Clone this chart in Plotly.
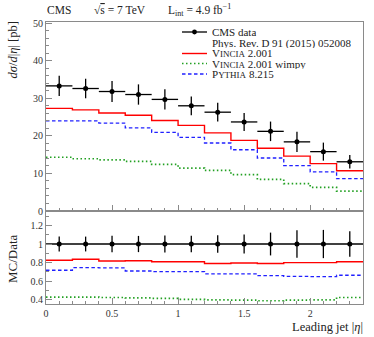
import plotly.graph_objects as go

# ---------------- data ----------------
bin_edges = [0.0, 0.2, 0.4, 0.6, 0.8, 1.0, 1.2, 1.4, 1.6, 1.8, 2.0, 2.2, 2.4]
bin_centers = [0.1, 0.3, 0.5, 0.7, 0.9, 1.1, 1.3, 1.5, 1.7, 1.9, 2.1, 2.3]
bin_halfwidth = [0.1] * 12

cms_data = [33.3, 32.6, 31.8, 31.0, 29.7, 28.0, 26.3, 23.7, 21.2, 18.4, 15.8, 13.1]
cms_err = [2.7, 2.6, 2.8, 2.7, 2.7, 2.5, 2.5, 2.4, 2.6, 2.7, 2.4, 1.8]

vincia = [27.3, 26.9, 26.1, 25.5, 24.1, 22.8, 20.8, 18.8, 16.7, 14.6, 12.6, 10.7]
vincia_wimpy = [14.3, 13.9, 13.6, 13.2, 12.4, 11.4, 10.8, 9.7, 8.4, 7.3, 6.3, 5.3]
pythia = [24.0, 24.0, 23.4, 22.1, 20.9, 19.6, 18.1, 16.3, 14.1, 12.1, 10.4, 8.6]

ratio_vincia = [0.825, 0.836, 0.818, 0.82, 0.81, 0.81, 0.79, 0.796, 0.79, 0.80, 0.80, 0.81]
ratio_wimpy = [0.43, 0.43, 0.425, 0.42, 0.415, 0.405, 0.40, 0.397, 0.39, 0.397, 0.40, 0.425]
ratio_pythia = [0.718, 0.746, 0.743, 0.71, 0.703, 0.703, 0.68, 0.68, 0.66, 0.653, 0.65, 0.664]

main_yticks = [0, 10, 20, 30, 40, 50]
ratio_yticks = [0.4, 0.6, 0.8, 1.0, 1.2]
ratio_yticklabels = ["0.4", "0.6", "0.8", "1", "1.2"]
x_ticks = [0, 0.5, 1, 1.5, 2]
x_ticklabels = ["0", "0.5", "1", "1.5", "2"]

# ---------------- style ----------------
FONT = "Liberation Serif"
RED = "#ff0000"
GREEN = "#22a022"
BLUE = "#2020ff"
FRAME = "#8a8a8a"
TXT = "#222222"

STY_VINCIA = dict(color=RED, dash="solid", width=1.4)
STY_WIMPY = dict(color=GREEN, dash="1.5px,2.5px", width=1.7)
STY_PYTHIA = dict(color=BLUE, dash="3.5px,2.5px", width=1.3)


def step(vals):
    return list(vals) + [vals[-1]]


fig = go.Figure()

for main_vals, rat_vals, sty in [(vincia, ratio_vincia, STY_VINCIA),
                                 (vincia_wimpy, ratio_wimpy, STY_WIMPY),
                                 (pythia, ratio_pythia, STY_PYTHIA)]:
    fig.add_trace(go.Scatter(x=bin_edges, y=step(main_vals), mode="lines",
                             line=dict(sty, shape="hv"),
                             xaxis="x", yaxis="y", showlegend=False, hoverinfo="skip"))
    fig.add_trace(go.Scatter(x=bin_edges, y=step(rat_vals), mode="lines",
                             line=dict(sty, shape="hv"),
                             xaxis="x2", yaxis="y2", showlegend=False, hoverinfo="skip"))

# data in main panel
fig.add_trace(go.Scatter(
    x=bin_centers, y=cms_data, mode="markers",
    marker=dict(color="black", size=5),
    error_x=dict(type="data", array=bin_halfwidth, color="black", thickness=1.3, width=0),
    error_y=dict(type="data", array=cms_err, color="black", thickness=1.3, width=0),
    xaxis="x", yaxis="y", showlegend=False))

# data ratio = 1 with relative errors
data_ratio = [d / d for d in cms_data]
data_ratio_err = [e / d for e, d in zip(cms_err, cms_data)]
fig.add_trace(go.Scatter(x=bin_edges, y=step(data_ratio), mode="lines",
                         line=dict(color="black", width=1.3, shape="hv"),
                         xaxis="x2", yaxis="y2", showlegend=False, hoverinfo="skip"))
fig.add_trace(go.Scatter(
    x=bin_centers, y=data_ratio, mode="markers",
    marker=dict(color="black", size=5),
    error_y=dict(type="data", array=data_ratio_err, color="black", thickness=1.3, width=0),
    xaxis="x2", yaxis="y2", showlegend=False))

# ---------------- layout ----------------
W, H = 374, 337
ML, MR, MT, MB = 46, 11, 22, 33
split = (304 - 211) / (H - MT - MB)

axis_common = dict(showline=True, linecolor=FRAME, linewidth=1, mirror=True,
                   ticks="inside", tickcolor=FRAME, showgrid=False, zeroline=False,
                   tickfont=dict(family=FONT, size=10, color="#333333"))

fig.update_layout(
    width=W, height=H,
    margin=dict(l=ML, r=MR, t=MT, b=MB),
    paper_bgcolor="white", plot_bgcolor="white",
    font=dict(family=FONT, size=11, color=TXT),
    showlegend=False,
    xaxis=dict(axis_common, domain=[0, 1], range=[0, 2.4], anchor="y",
               tickvals=x_ticks, showticklabels=False, ticklen=6,
               minor=dict(dtick=0.1, tick0=0, ticks="inside", ticklen=3, tickcolor=FRAME)),
    yaxis=dict(axis_common, domain=[split, 1], range=[0, 50.3], anchor="x",
               tickvals=main_yticks, ticklen=6,
               minor=dict(dtick=2, tick0=0, ticks="inside", ticklen=3, tickcolor=FRAME)),
    xaxis2=dict(axis_common, domain=[0, 1], range=[0, 2.4], anchor="y2",
                tickvals=x_ticks, ticktext=x_ticklabels, ticklen=6,
                minor=dict(dtick=0.1, tick0=0, ticks="inside", ticklen=3, tickcolor=FRAME)),
    yaxis2=dict(axis_common, domain=[0, split], range=[0.355, 1.355], anchor="x2",
                tickvals=ratio_yticks, ticktext=ratio_yticklabels, ticklen=6,
                minor=dict(dtick=0.1, tick0=0, ticks="inside", ticklen=3, tickcolor=FRAME)),
)

PW = W - ML - MR
PH = H - MT - MB


def px(xp):
    return (xp - ML) / PW


def py(yp):
    return (H - MB - yp) / PH


def f(size):
    return dict(family=FONT, size=size, color=TXT)


annotations = [
    dict(text="CMS", x=px(45), y=py(10), xanchor="left", yanchor="middle", font=f(11.5)),
    dict(text="√<span style='text-decoration:overline'>s</span> = 7 TeV", x=px(92), y=py(10),
         xanchor="left", yanchor="middle", font=f(11.5)),
    dict(text="L<sub>int</sub> = 4.9 fb<sup>−1</sup>", x=px(166), y=py(10),
         xanchor="left", yanchor="middle", font=f(11.5)),
    dict(text="<i>dσ</i>/<i>d</i>|<i>η</i>| [pb]", x=px(12), y=py(20), textangle=-90,
         xanchor="center", yanchor="top", font=f(12.5)),
    dict(text="MC/Data", x=px(12), y=py(259), textangle=-90,
         xanchor="center", yanchor="middle", font=f(13)),
    dict(text="Leading jet |<i>η</i>|", x=px(365), y=py(327), xanchor="right",
         yanchor="middle", font=f(12.5)),
]

# legend (drawn manually to match the compact row spacing of the reference)
leg_x0, leg_x1, leg_tx = px(182), px(207), px(210)
SC = "<span style='font-size:9px'>"
legend_rows = [
    ("CMS data", "data", 32),
    ("Phys. Rev. D 91 (2015) 052008", None, 43),
    ("V" + SC + "INCIA</span> 2.001", STY_VINCIA, 53.5),
    ("V" + SC + "INCIA</span> 2.001 wimpy", STY_WIMPY, 63.5),
    ("P" + SC + "YTHIA</span> 8.215", STY_PYTHIA, 74),
]
shapes = []
for label, sty, ypix in legend_rows:
    annotations.append(dict(text=label, x=leg_tx, y=py(ypix), xanchor="left",
                            yanchor="middle", height=10, font=f(11)))
    if sty == "data":
        shapes.append(dict(type="line", xref="paper", yref="paper", x0=leg_x0, x1=leg_x1,
                           y0=py(ypix), y1=py(ypix), line=dict(color="black", width=1.3)))
        cx = (leg_x0 + leg_x1) / 2
        shapes.append(dict(type="circle", xref="paper", yref="paper",
                           x0=cx - 2.4 / PW, x1=cx + 2.4 / PW,
                           y0=py(ypix) - 2.4 / PH, y1=py(ypix) + 2.4 / PH,
                           fillcolor="black", line=dict(color="black", width=0)))
    elif sty is not None:
        shapes.append(dict(type="line", xref="paper", yref="paper", x0=leg_x0, x1=leg_x1,
                           y0=py(ypix), y1=py(ypix), line=sty))

for a in annotations:
    a.update(xref="paper", yref="paper", showarrow=False)

fig.update_layout(annotations=annotations, shapes=shapes)

fig.write_html("out.html", config={"displayModeBar": False},
               post_script="document.body.style.margin='0';document.body.style.padding='0';")
